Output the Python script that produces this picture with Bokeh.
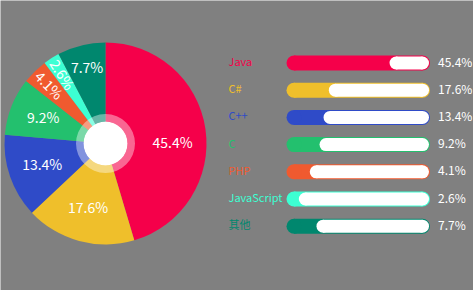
import math
from bokeh.plotting import figure
from bokeh.models import Range1d
from bokeh.core.properties import value
from bokeh.embed import file_html
from bokeh.resources import INLINE

# ---- data ----
languages = ["Java", "C#", "C++", "C", "PHP", "JavaScript", "其他"]
shares = [45.4, 17.6, 13.4, 9.2, 4.1, 2.6, 7.7]
# filled part of each progress track (percent of track)
bar_levels = [71.8, 29.5, 25.8, 23.0, 16.2, 8.6, 20.9]
colors = ["#F5004A", "#EFBF2B", "#2F4BC8", "#23C06E", "#F05A2F", "#3DFFD3", "#00876E"]

W, H = 473, 290
BG = "#808080"
FONT = "Noto Sans CJK SC"

def sy(v):
    return H - v

p = figure(width=W, height=H, x_range=Range1d(0, W), y_range=Range1d(0, H),
           output_backend="svg", toolbar_location=None, min_border=0,
           background_fill_color=BG, border_fill_color=BG)
p.axis.visible = False
p.grid.visible = False
p.outline_line_color = None

# ---- pie ----
cx, cy, R = 105, sy(143), 101
total = sum(shares)
starts, ends, mids = [], [], []
acc = 0.0
for v in shares:
    a0 = math.pi / 2 - 2 * math.pi * acc / total
    acc += v
    a1 = math.pi / 2 - 2 * math.pi * acc / total
    starts.append(a0); ends.append(a1); mids.append((a0 + a1) / 2)

p.wedge(x=cx, y=cy, radius=R, start_angle=starts, end_angle=ends,
        direction="clock", fill_color=colors, line_color=None)

lx, ly, la = [], [], []
for v, m in zip(shares, mids):
    if v < 5:
        r, ang = 80, m - math.pi
    elif v < 9:
        r, ang = 77, 0.0
    else:
        r, ang = 67, 0.0
    if v > 40:
        m = 0.0  # the largest slice's label sits level with the centre
    lx.append(cx + r * math.cos(m)); ly.append(cy + r * math.sin(m) + 1.5); la.append(ang)
p.text(x=lx, y=ly, angle=la, text=[f"{v}%" for v in shares],
       text_color="white", text_font=value(FONT), text_font_size="14px",
       text_align="center", text_baseline="middle")

p.annulus(x=cx, y=cy, inner_radius=22, outer_radius=29.5,
          fill_color="white", fill_alpha=0.4, line_color=None)
p.circle(x=cx, y=cy, radius=22, fill_color="white", line_color=None)

# ---- progress bars ----
x0, x1, bh = 286, 429.5, 15
rr = bh / 2
tw = x1 - x0
rows = [sy(62.5 + i * 27.2) for i in range(len(languages))]

p.quad(left=x0 + rr, right=x1 - rr, top=[y + rr for y in rows], bottom=[y - rr for y in rows],
       fill_color=colors, line_color=None)
p.circle(x=[x0 + rr] * len(rows), y=rows, radius=rr, fill_color=colors, line_color=None)
p.circle(x=[x1 - rr] * len(rows), y=rows, radius=rr, fill_color=colors, line_color=None)

wr = rr - 1
ws = [x0 + lv / 100 * tw for lv in bar_levels]
p.quad(left=[s + wr for s in ws], right=x1 - 1 - wr, top=[y + wr for y in rows],
       bottom=[y - wr for y in rows], fill_color="white", line_color=None)
p.circle(x=[s + wr for s in ws], y=rows, radius=wr, fill_color="white", line_color=None)
p.circle(x=[x1 - 1 - wr] * len(rows), y=rows, radius=wr, fill_color="white", line_color=None)

p.text(x=[228] * len(rows), y=[y + 2 for y in rows], text=languages, text_color=colors,
       text_font=value(FONT), text_font_size="11px", text_align="left", text_baseline="middle")
p.text(x=[437.5] * len(rows), y=[y + 2 for y in rows], text=[f"{v}%" for v in shares],
       text_color="white", text_font=value(FONT), text_font_size="12px",
       text_align="left", text_baseline="middle")

open("out.html", "w").write(file_html(p, INLINE))
